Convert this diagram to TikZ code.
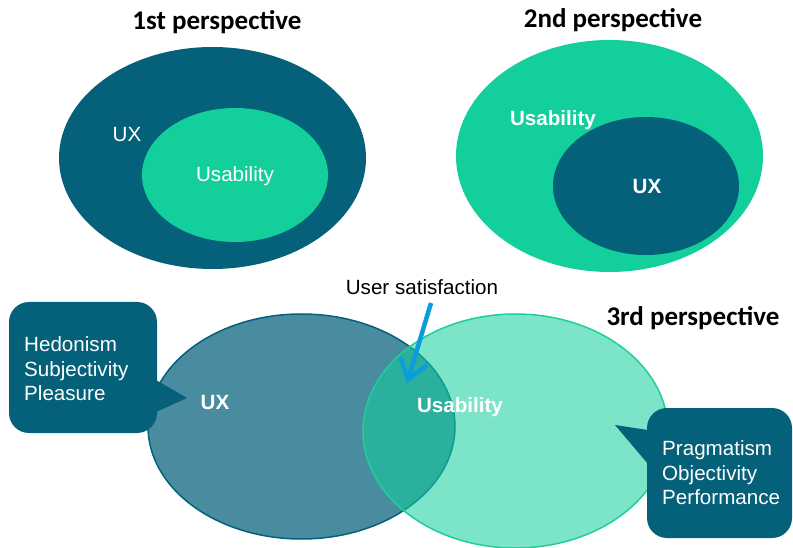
\documentclass[tikz,border=0pt]{standalone}
\usepackage{fontspec}
\setmainfont{Liberation Sans}
\newfontfamily\titlefont{Carlito}
\usetikzlibrary{arrows.meta}
\definecolor{darkteal}{HTML}{05607A}
\definecolor{mint}{HTML}{12CF9C}
\definecolor{mintedge}{HTML}{1FCE9A}
\definecolor{arrowblue}{HTML}{0B9DDB}
\tikzset{
  title/.style={font=\titlefont\bfseries\fontsize{27}{30}\selectfont, text=black, inner sep=0pt},
  lbl/.style={font=\fontsize{20.6}{24.5}\selectfont, text=white, inner sep=0pt},
  blbl/.style={font=\bfseries\fontsize{20.6}{24.5}\selectfont, text=white, inner sep=0pt},
  calltext/.style={font=\fontsize{20.6}{24.5}\selectfont, text=white, inner sep=0pt, align=left, anchor=west},
}
\begin{document}
\begin{tikzpicture}[x=1pt,y=-1pt]
\useasboundingbox (0,0) rectangle (793,548);
\fill[white] (0,0) rectangle (793,548);
% 1st perspective
\node[title] (t1) at (217,22) {1st perspective};
\fill[darkteal] (212.5,158) ellipse [x radius=153.5, y radius=111];
\fill[mint] (235,175) ellipse [x radius=93, y radius=67];
\node[lbl] (ux1) at (127,135) {UX};
\node[lbl] (us1) at (235,176) {Usability};
% 2nd perspective
\node[title] (t2) at (613,20) {2nd perspective};
\fill[mint] (609.5,156) ellipse [x radius=153.5, y radius=116];
\fill[darkteal] (646,186) ellipse [x radius=93, y radius=69];
\node[blbl] (us2) at (553,120) {Usability};
\node[blbl] (ux2) at (647,187) {UX};
% 3rd perspective
\node[title] (t3) at (693,318) {3rd perspective};
\filldraw[fill=darkteal, fill opacity=0.72, draw=darkteal, line width=1.5pt] (301.5,426.5) ellipse [x radius=153.5, y radius=112.5];
\filldraw[fill=mint, fill opacity=0.55, draw=mintedge, line width=1.5pt] (515.5,431) ellipse [x radius=152.5, y radius=117];
\node[blbl] (ux3) at (215,403) {UX};
\node[blbl] (us3) at (460,407) {Usability};
% callouts
\fill[darkteal, rounded corners=20pt] (9,302) rectangle (157,433);
\fill[darkteal] (156,380) -- (187,398) -- (156,412) -- cycle;
\node[calltext] (hed) at (24,369) {Hedonism\\Subjectivity\\Pleasure};
\fill[darkteal, rounded corners=20pt] (647,408) rectangle (792,538);
\fill[darkteal] (648,430) -- (615,425) -- (648,464) -- cycle;
\node[calltext] (prag) at (662,473) {Pragmatism\\Objectivity\\Performance};
% user satisfaction
\node[font=\fontsize{20.6}{24.5}\selectfont, inner sep=0pt] (us) at (422,287) {User satisfaction};
\coordinate (atip) at (407,383);
\draw[arrowblue, line width=4.5pt, -{Straight Barb[length=19pt, width=28pt, line width=4.5pt]}] (431,303) -- (atip);
\end{tikzpicture}
\end{document}
